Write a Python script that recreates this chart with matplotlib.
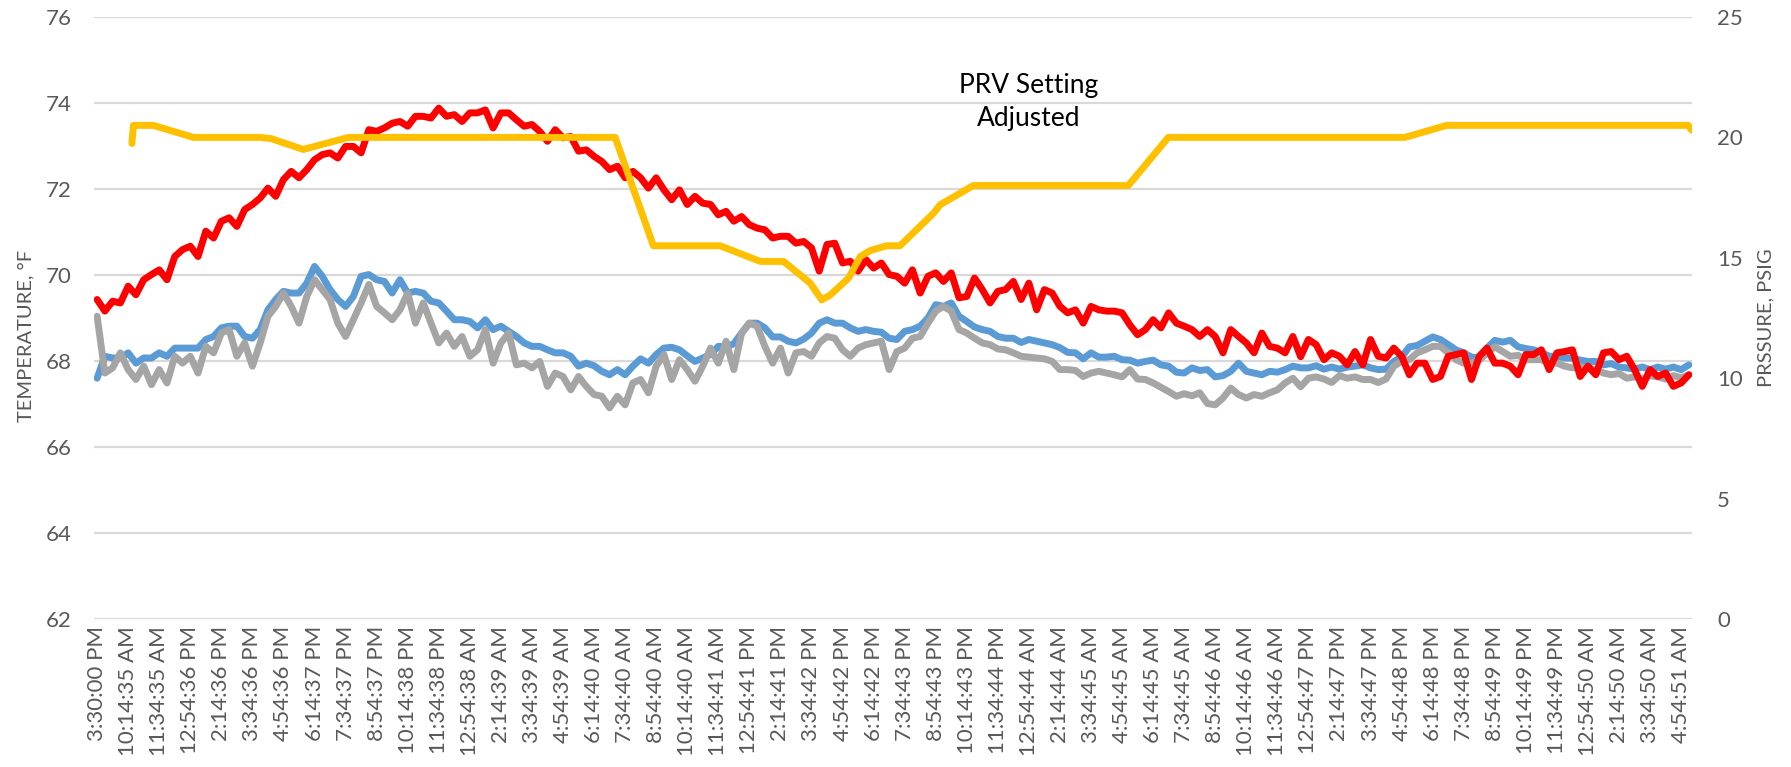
import numpy as np
import matplotlib
matplotlib.use("Agg")
import matplotlib.pyplot as plt

# ---------------- data ----------------
time_labels = [
    "3:30:00 PM", "10:14:35 AM", "11:34:35 AM", "12:54:36 PM", "2:14:36 PM", "3:34:36 PM",
    "4:54:36 PM", "6:14:37 PM", "7:34:37 PM", "8:54:37 PM", "10:14:38 PM", "11:34:38 PM",
    "12:54:38 AM", "2:14:39 AM", "3:34:39 AM", "4:54:39 AM", "6:14:40 AM", "7:34:40 AM",
    "8:54:40 AM", "10:14:40 AM", "11:34:41 AM", "12:54:41 PM", "2:14:41 PM", "3:34:42 PM",
    "4:54:42 PM", "6:14:42 PM", "7:34:43 PM", "8:54:43 PM", "10:14:43 PM", "11:34:44 PM",
    "12:54:44 AM", "2:14:44 AM", "3:34:45 AM", "4:54:45 AM", "6:14:45 AM", "7:34:45 AM",
    "8:54:46 AM", "10:14:46 AM", "11:34:46 AM", "12:54:47 PM", "2:14:47 PM", "3:34:47 PM",
    "4:54:48 PM", "6:14:48 PM", "7:34:48 PM", "8:54:49 PM", "10:14:49 PM", "11:34:49 PM",
    "12:54:50 AM", "2:14:50 AM", "3:34:50 AM", "4:54:51 AM",
]

# temperature samples, four per label interval
red_temp = [
    69.43, 69.16, 69.39, 69.35, 69.74, 69.54, 69.89, 70.01, 70.12, 69.89, 70.43, 70.59, 70.67,
    70.43, 71.02, 70.86, 71.25, 71.33, 71.13, 71.52, 71.64, 71.79, 72.02, 71.83, 72.22, 72.41,
    72.26, 72.45, 72.68, 72.80, 72.84, 72.72, 72.99, 72.99, 72.84, 73.38, 73.34, 73.42, 73.53,
    73.57, 73.46, 73.69, 73.69, 73.65, 73.88, 73.69, 73.73, 73.57, 73.77, 73.77, 73.84, 73.42,
    73.77,
    73.77, 73.61, 73.46, 73.50, 73.34, 73.11, 73.38, 73.19, 73.22, 72.88, 72.91, 72.76, 72.64,
    72.45, 72.53, 72.26, 72.41, 72.26, 72.02, 72.26, 71.98, 71.75, 71.98, 71.64, 71.83, 71.67,
    71.64, 71.40, 71.48, 71.25, 71.36, 71.17, 71.09, 71.05, 70.86, 70.90, 70.90, 70.74, 70.78,
    70.63, 70.09, 70.71, 70.74, 70.28, 70.32, 70.09, 70.36, 70.16, 70.28, 70.01,
    69.97, 69.81, 70.12, 69.58, 69.97, 70.05, 69.85, 70.05, 69.47, 69.50, 69.93, 69.66, 69.35,
    69.62, 69.66, 69.85, 69.43, 69.81, 69.19, 69.66, 69.58, 69.27, 69.12, 69.19, 68.88, 69.27,
    69.19, 69.16, 69.16, 69.12, 68.84, 68.61, 68.73, 68.96, 68.77, 69.12, 68.88, 68.81, 68.73,
    68.57, 68.73, 68.57, 68.19, 68.73, 68.57, 68.42, 68.19, 68.65, 68.34, 68.30, 68.19, 68.57,
    68.10, 68.50, 68.38, 68.03, 68.19, 68.11, 67.91, 68.22, 67.91, 68.50, 68.11, 68.07, 68.30,
    68.11, 67.68, 67.95, 67.95, 67.57, 67.64, 68.11, 68.15, 68.19, 67.57, 68.11, 68.30, 67.95,
    67.95, 67.88, 67.68, 68.15, 68.15, 68.26, 67.80, 68.19, 68.22, 68.26, 67.64, 67.88, 67.68,
    68.19, 68.22, 68.03, 68.11, 67.80, 67.41, 67.80, 67.64, 67.72, 67.41, 67.49, 67.68,
]

blue_temp = [
    67.60, 68.11, 68.07, 68.07, 68.19, 67.95, 68.07, 68.07, 68.19, 68.11, 68.30, 68.30, 68.30,
    68.30, 68.50, 68.57, 68.77, 68.81, 68.81, 68.57, 68.53, 68.73, 69.19, 69.43, 69.62, 69.58,
    69.58, 69.81, 70.20, 69.97, 69.66, 69.43, 69.27, 69.50, 69.97, 70.01, 69.89, 69.85, 69.58,
    69.89, 69.58, 69.62, 69.58, 69.39, 69.35, 69.16, 68.96, 68.96, 68.92, 68.77, 68.96, 68.73,
    68.81,
    68.69, 68.57, 68.42, 68.34, 68.34, 68.26, 68.19, 68.19, 68.11, 67.88, 67.95, 67.89, 67.76,
    67.68, 67.80, 67.68, 67.88, 68.05, 67.95, 68.15, 68.30, 68.32, 68.26, 68.12, 67.99, 68.07,
    68.15, 68.34, 68.33, 68.40, 68.65, 68.88, 68.88, 68.77, 68.56, 68.56, 68.46, 68.42, 68.51,
    68.65, 68.88, 68.96, 68.88, 68.88, 68.77, 68.69, 68.73, 68.69, 68.67, 68.53,
    68.50, 68.69, 68.73, 68.81, 69.00, 69.31, 69.27, 69.35, 69.04, 68.92, 68.79, 68.73, 68.69,
    68.57, 68.53, 68.53, 68.43, 68.50, 68.46, 68.42, 68.38, 68.31, 68.20, 68.19, 68.05, 68.19,
    68.09, 68.09, 68.11, 68.03, 68.02, 67.95, 67.99, 68.02, 67.91, 67.88, 67.74, 67.72, 67.84,
    67.78, 67.80, 67.63, 67.66, 67.76, 67.95, 67.76, 67.72, 67.68, 67.76, 67.74, 67.80, 67.88,
    67.84, 67.84, 67.89, 67.81, 67.86, 67.81, 67.86, 67.88, 67.91, 67.84, 67.80, 67.81, 67.99,
    68.09, 68.33, 68.36, 68.46, 68.56, 68.50, 68.38, 68.26, 68.19, 68.09, 68.07, 68.30, 68.48,
    68.44, 68.48, 68.33, 68.29, 68.26, 68.20, 68.11, 68.11, 68.07, 68.07, 68.02, 67.99, 67.99,
    67.91, 67.94, 67.86, 67.84, 67.81, 67.86, 67.80, 67.86, 67.81, 67.86, 67.80, 67.91,
]

gray_temp = [
    69.04, 67.72, 67.84, 68.19, 67.80, 67.57, 67.88, 67.45, 67.80, 67.49, 68.11, 67.95, 68.11,
    67.72, 68.34, 68.19, 68.65, 68.73, 68.11, 68.42, 67.88, 68.42, 69.04, 69.27, 69.58, 69.27,
    68.88, 69.50, 69.89, 69.66, 69.43, 68.88, 68.57, 68.96, 69.35, 69.78, 69.27, 69.12, 68.96,
    69.19, 69.58, 68.88, 69.35, 68.88, 68.42, 68.65, 68.34, 68.57, 68.11, 68.26, 68.73, 67.95,
    68.42,
    68.65, 67.91, 67.95, 67.84, 67.99, 67.41, 67.72, 67.64, 67.33, 67.64, 67.41, 67.22, 67.18,
    66.91, 67.18, 66.98, 67.49, 67.57, 67.26, 67.88, 68.15, 67.57, 68.03, 67.80, 67.53, 67.88,
    68.30, 67.95, 68.46, 67.80, 68.65, 68.88, 68.81, 68.34, 67.95, 68.30, 67.72, 68.19, 68.22,
    68.11, 68.42, 68.57, 68.53, 68.26, 68.11, 68.30, 68.38, 68.42, 68.46, 67.80,
    68.22, 68.30, 68.53, 68.57, 68.88, 69.16, 69.27, 69.16, 68.73, 68.65, 68.53, 68.42, 68.38,
    68.28, 68.26, 68.19, 68.11, 68.09, 68.07, 68.05, 67.99, 67.80, 67.80, 67.78, 67.64, 67.72,
    67.76, 67.72, 67.68, 67.63, 67.80, 67.58, 67.57, 67.49, 67.39, 67.29, 67.18, 67.24, 67.19,
    67.26, 67.01, 66.98, 67.14, 67.37, 67.22, 67.14, 67.22, 67.18, 67.26, 67.33, 67.49, 67.60,
    67.40, 67.60, 67.63, 67.58, 67.50, 67.66, 67.60, 67.63, 67.57, 67.57, 67.50, 67.58, 67.88,
    67.99, 68.03, 68.19, 68.26, 68.34, 68.34, 68.19, 68.03, 67.95, 67.95, 68.02, 68.19, 68.33,
    68.22, 68.11, 68.13, 68.03, 68.03, 68.03, 67.95, 67.95, 67.88, 67.84, 67.86, 67.84, 67.80,
    67.72, 67.68, 67.71, 67.60, 67.63, 67.58, 67.66, 67.63, 67.58, 67.66, 67.61, 67.68,
]

# pressure (PRV setting) readings: position along the category axis and value
pressure_pos = [1.12, 1.17, 1.81, 3.10, 5.25, 5.60, 6.64, 8.09, 16.68, 17.91, 20.06, 21.35,
                22.10, 22.96, 23.33, 23.60, 24.19, 24.57, 24.89, 25.42, 25.85, 26.93, 27.14,
                28.21, 33.20, 34.49, 42.11, 43.45, 51.23, 51.34]
pressure_psig = [19.75, 20.5, 20.5, 20.0, 20.0, 19.95, 19.5, 20.0, 20.0, 15.5, 15.5, 14.85,
                 14.85, 13.95, 13.25, 13.45, 14.15, 15.05, 15.3, 15.5, 15.5, 16.85, 17.2,
                 18.0, 18.0, 20.0, 20.0, 20.5, 20.5, 20.3]

samples_per_label = 4

# ---------------- styling ----------------
FONT = ["Lato", "DejaVu Sans"]
plt.rcParams["font.family"] = FONT
TXT = "#595959"

W, H = 1791, 767
fig = plt.figure(figsize=(W / 100, H / 100), dpi=100)
L, R, T, B = 94, 1692, 17, 619
ax = fig.add_axes([L / W, 1 - B / H, (R - L) / W, (B - T) / H])

x = np.arange(len(red_temp)) / samples_per_label

lw = 5.0
ax.plot(x, blue_temp, color="#5B9BD5", lw=lw, solid_joinstyle="round", solid_capstyle="round", zorder=3)
ax.plot(x, gray_temp, color="#A5A5A5", lw=lw, solid_joinstyle="round", solid_capstyle="round", zorder=4)
ax.plot(x, red_temp, color="#FF0000", lw=lw, solid_joinstyle="round", solid_capstyle="round", zorder=5)

ax.set_ylim(62, 76)
ax.set_yticks(np.arange(62, 77, 2))
ax.set_xlim(-0.1, 51.35)
ax.set_xticks(np.arange(len(time_labels)))
ax.set_xticklabels(time_labels, rotation=90, fontsize=16, color=TXT)
ax.grid(axis="y", color="#D9D9D9", lw=1.6)
ax.set_axisbelow(True)
for s in ax.spines.values():
    s.set_visible(False)
ax.tick_params(axis="both", length=0)
ax.tick_params(axis="y", labelsize=16, labelcolor=TXT, pad=16)
ax.tick_params(axis="x", pad=5)
ax.set_ylabel("TEMPERATURE, °F", fontsize=14.5, color=TXT)
ax.yaxis.set_label_coords(-0.0375, 0.47)

ax2 = ax.twinx()
ax2.plot(pressure_pos, pressure_psig, color="#FFC000", lw=lw, solid_joinstyle="round",
         solid_capstyle="round", zorder=6)
ax2.set_ylim(0, 25)
ax2.set_yticks(np.arange(0, 26, 5))
for s in ax2.spines.values():
    s.set_visible(False)
ax2.tick_params(axis="y", length=0, labelsize=16, labelcolor=TXT, pad=18)
ax2.set_ylabel("PRSSURE, PSIG", fontsize=14.5, color=TXT)
ax2.yaxis.set_label_coords(1.0407, 0.50)
ax2.patch.set_visible(False)

ax.text(30.0, 74.03, "PRV Setting\nAdjusted", ha="center", va="center", fontsize=19,
        color="black", linespacing=1.38, zorder=10)

fig.savefig("out.png", dpi=100)
